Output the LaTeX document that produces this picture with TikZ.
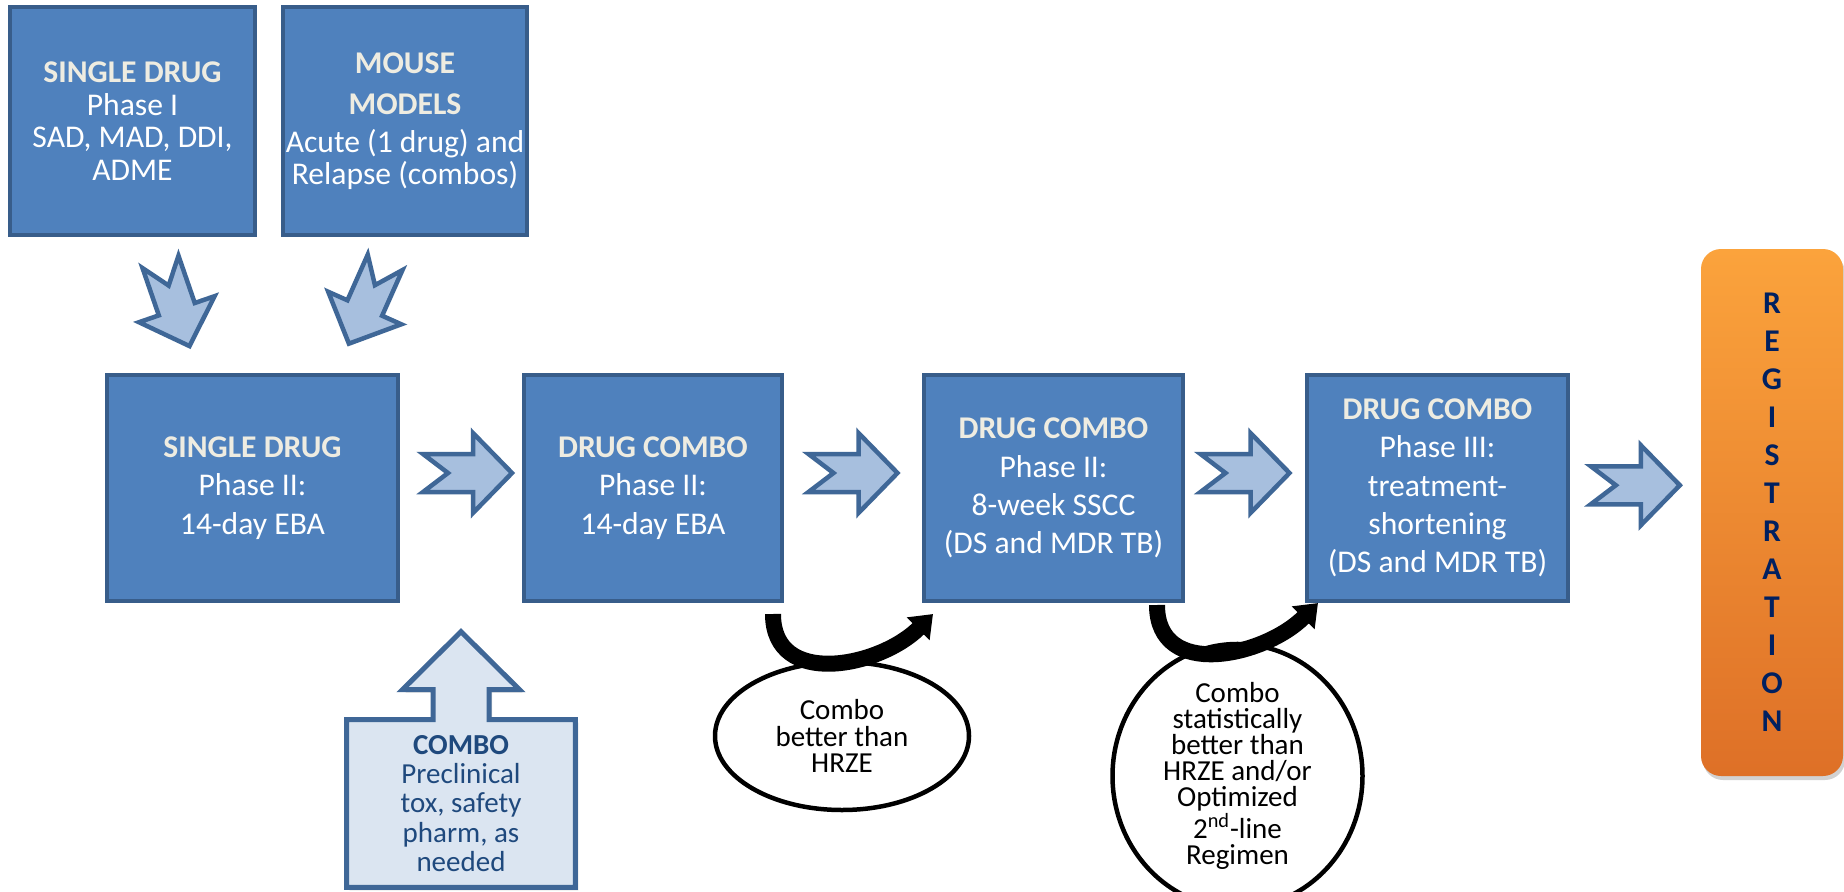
\documentclass[tikz,border=0pt]{standalone}
\usepackage{fontspec}
\setmainfont{Carlito}
\usetikzlibrary{arrows.meta, calc, shadows, backgrounds, shapes.geometric}

\definecolor{boxblue}{HTML}{4F81BD}
\definecolor{boxedge}{HTML}{385D8A}
\definecolor{arrowfill}{HTML}{A7BFDE}
\definecolor{arrowedge}{HTML}{3F6797}
\definecolor{headcream}{HTML}{EEECE1}
\definecolor{calloutfill}{HTML}{DBE5F1}
\definecolor{callouttext}{HTML}{1F497D}
\definecolor{regtop}{HTML}{FBA33C}
\definecolor{regbottom}{HTML}{DE7027}
\definecolor{regtext}{HTML}{002060}

\newcommand{\stagehead}[1]{{\bfseries\color{headcream}#1}}

\tikzset{
  notcharrow/.pic={
    \draw[line width=0.09cm, draw=arrowedge, fill=arrowfill, line join=miter]
      (-0.89,0.38) -- (0.11,0.38) -- (0.11,0.80) -- (0.89,0) -- (0.11,-0.80)
      -- (0.11,-0.38) -- (-0.89,-0.38) -- (-0.39,0) -- cycle;
  }
}

\begin{document}
\begin{tikzpicture}[
    stage/.style={draw=boxedge, line width=0.08cm, fill=boxblue, text=white, align=center,
      minimum height=4.52cm, inner sep=0pt, font=\fontsize{18}{21.8}\selectfont},
    verdict/.style={ellipse, draw=black, line width=0.09cm, fill=white, align=center,
      inner sep=0pt, font=\fontsize{16.5}{15.3}\selectfont},
    verdictarrow/.style={line width=0.32cm, -{Triangle[width=0.62cm, length=0.42cm]}},
    reg/.style={rounded corners=0.4cm, top color=regtop, bottom color=regbottom, draw=none,
      text=regtext, align=center, font=\bfseries\fontsize{18}{21.6}\selectfont,
      drop shadow={shadow xshift=0.04cm, shadow yshift=-0.08cm, opacity=0.35}},
    calloutline/.style={line width=0.1cm, draw=arrowedge, fill=calloutfill, line join=miter,
      drop shadow={shadow xshift=0.06cm, shadow yshift=-0.06cm, opacity=0.3}}
  ]
  \path[use as bounding box] (0,0) rectangle (36.88,-17.84);
  % Top Nodes
  \node[stage, minimum width=4.90cm, minimum height=4.56cm, font=\fontsize{18}{18.5}\selectfont]
    (p1) at (2.65,-2.42) {\stagehead{SINGLE DRUG}\\Phase I\\SAD, MAD, DDI,\\ADME};
  \node[stage, minimum width=4.88cm, minimum height=4.56cm, font=\fontsize{18}{18.5}\selectfont]
    (mm) at (8.10,-2.42) {\stagehead{MOUSE}\\[5pt]\stagehead{MODELS}\\[3pt]Acute (1 drug) and\\Relapse (combos)};
  % Stage Nodes
  \node[stage, minimum width=5.82cm] (s2) at (5.05,-9.76) {\stagehead{SINGLE DRUG}\\Phase II:\\14-day EBA};
  \node[stage, minimum width=5.16cm] (c2) at (13.06,-9.76) {\stagehead{DRUG COMBO}\\Phase II:\\14-day EBA};
  \node[stage, minimum width=5.18cm] (c8) at (21.07,-9.76) {\stagehead{DRUG COMBO}\\Phase II:\\8-week SSCC\\(DS and MDR TB)};
  \node[stage, minimum width=5.22cm] (c3) at (28.75,-9.76) {\stagehead{DRUG COMBO}\\Phase III:\\treatment-\\shortening\\(DS and MDR TB)};
  \node[reg, minimum width=2.84cm, minimum height=10.54cm] (rg) at (35.44,-10.25) {R\\E\\G\\I\\S\\T\\R\\A\\T\\I\\O\\N};
  % Block arrows
  \pic[rotate=-71] at (3.50,-6.08) {notcharrow};
  \pic[rotate=-114] at (7.34,-6.06) {notcharrow};
  \pic at ($(s2.east)!0.5!(c2.west)+(0.13,0.3)$) {notcharrow};
  \pic at ($(c2.east)!0.5!(c8.west)+(0,0.3)$) {notcharrow};
  \pic at ($(c8.east)!0.5!(c3.west)+(0,0.3)$) {notcharrow};
  \pic at ($(c3.east)!0.5!(rg.west)+(0,0.3)$) {notcharrow};
  % Preclinical callout
  \node[text=callouttext, align=center, font=\fontsize{16.5}{16.7}\selectfont,
    minimum width=4.56cm, minimum height=3.34cm, inner sep=0pt]
    (cb) at (9.22,-16.07) {\textbf{COMBO}\\Preclinical\\tox, safety\\pharm, as\\needed};
  \begin{scope}[on background layer]
    \fill[white] (0,0) rectangle (36.88,-17.84);
    \draw[calloutline] (cb.south west) -- (cb.north west) -- ([xshift=-0.56cm]cb.north)
      -- ++(0,0.6) -- ++(-0.61,0) -- ([yshift=1.76cm]cb.north)
      -- ([xshift=1.17cm, yshift=0.6cm]cb.north) -- ++(-0.61,0)
      -- ([xshift=0.56cm]cb.north) -- (cb.north east) -- (cb.south east) -- cycle;
  \end{scope}
  % Decisions
  \node[verdict, minimum width=5.08cm, minimum height=2.96cm] (v1) at (16.84,-14.72) {Combo\\better than\\HRZE};
  \node[verdict, minimum width=5.0cm, minimum height=4.48cm, font=\fontsize{16.5}{14.8}\selectfont]
    (v2) at (24.75,-15.52)
    {Combo\\statistically\\better than\\HRZE and/or\\Optimized\\2\textsuperscript{nd}-line\\Regimen};
  \draw[verdictarrow] ([xshift=-0.22cm, yshift=-0.22cm]c2.south east) to[out=-90, in=-135, looseness=1.2]
    ([xshift=0.22cm, yshift=-0.22cm]c8.south west);
  \draw[verdictarrow] ([xshift=-0.56cm, yshift=-0.04cm]c8.south east) to[out=-90, in=-135, looseness=1.2]
    ([xshift=0.26cm]c3.south west);
\end{tikzpicture}
\end{document}
